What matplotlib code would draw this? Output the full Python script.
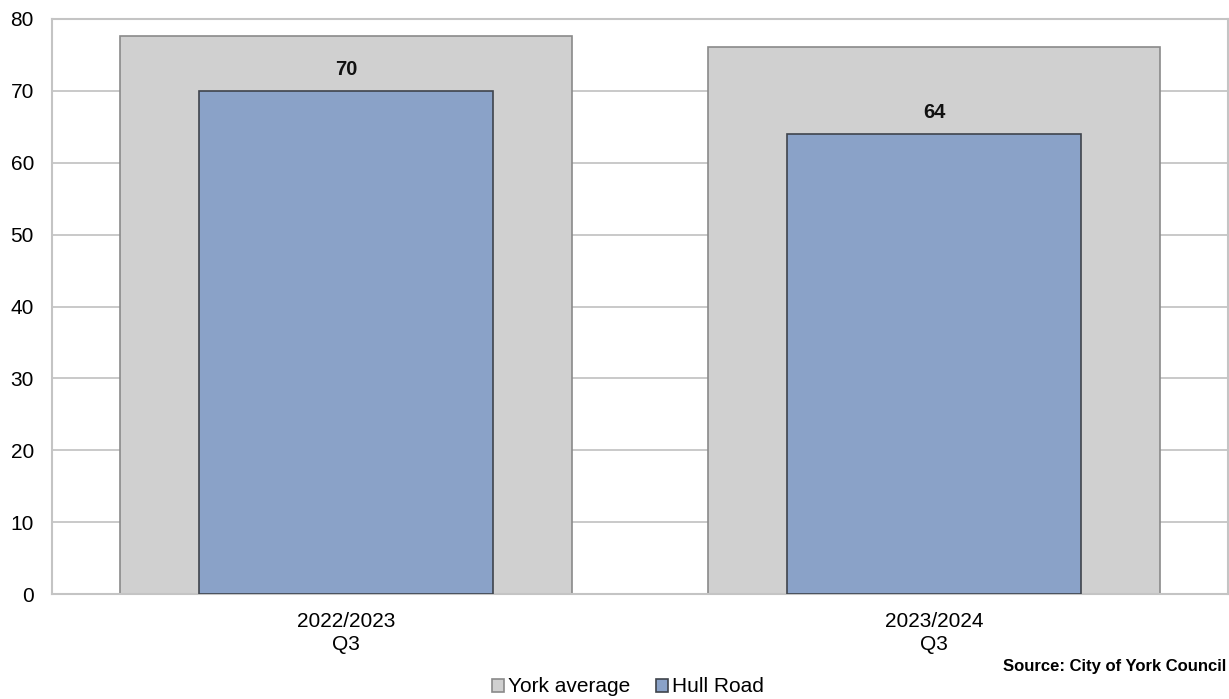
import numpy as np
import matplotlib.pyplot as plt

plt.rcParams['font.family'] = ['Liberation Sans', 'DejaVu Sans']

categories = ['2022/2023\nQ3', '2023/2024\nQ3']
york_average = [77.6, 76.1]
hull_road = [70, 64]

fig = plt.figure(figsize=(12.29, 6.99), dpi=100)
ax = fig.add_axes([52 / 1229, 105 / 699, 1176 / 1229, 575 / 699])

x = np.arange(len(categories))
ax.bar(x, york_average, width=0.77, color='#d0d0d0', edgecolor='#8a8a8a',
       linewidth=1.2, label='York average', zorder=2)
bars = ax.bar(x, hull_road, width=0.5, color='#8aa2c8', edgecolor='#3f444c',
              linewidth=1.2, label='Hull Road', zorder=3)

for xi, v in zip(x, hull_road):
    ax.text(xi, v + 3.0, f'{v}', ha='center', va='center', fontsize=14.5,
            fontweight='bold', color='#111111', zorder=4)

ax.set_xlim(-0.5, 1.5)
ax.set_ylim(0, 80)
ax.set_yticks(range(0, 81, 10))
ax.set_xticks(x)
ax.set_xticklabels(categories, fontsize=15, linespacing=1.25)
ax.tick_params(axis='y', labelsize=15, length=0, pad=13)
ax.tick_params(axis='x', length=0, pad=13)
ax.yaxis.grid(True, color='#c0c0c0', linewidth=1.2, zorder=0)
ax.set_axisbelow(True)
for s in ax.spines.values():
    s.set_color('#c4c4c4')
    s.set_linewidth(1.5)

fig.text(1226 / 1229, 1 - 667 / 699, 'Source: City of York Council',
         fontsize=12, fontweight='bold', ha='right', va='center')

fig.legend(loc='center', bbox_to_anchor=(628 / 1229, 1 - 687 / 699), ncol=2,
           frameon=False, fontsize=15, handlelength=0.6, handleheight=0.6,
           handletextpad=0.2, columnspacing=1.2)

fig.savefig('out.png', dpi=100)
